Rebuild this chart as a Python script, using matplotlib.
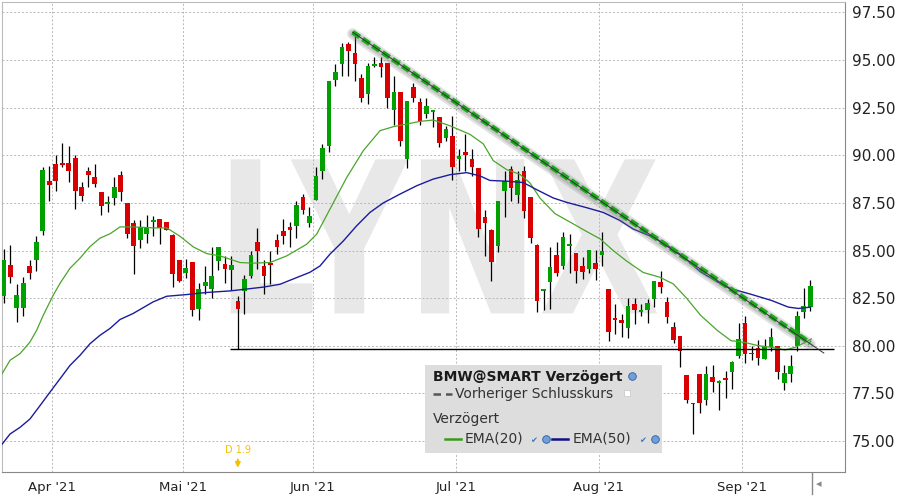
import matplotlib
matplotlib.use('Agg')
import matplotlib.pyplot as plt
import numpy as np
from matplotlib.textpath import TextPath
from matplotlib.patches import PathPatch, Rectangle
from matplotlib.font_manager import FontProperties
from matplotlib.transforms import Affine2D
from matplotlib.lines import Line2D

# daily OHLC, 22 Mar 2021 .. 15 Sep 2021 (index = trading day)
opens = [82.59, 84.24, 82.01, 81.96, 84.18, 84.50, 86.02, 88.66, 89.55, 89.60,
         89.60, 89.86, 88.35, 89.18, 88.87, 88.09, 87.45, 87.74, 88.98, 87.52,
         86.46, 85.56, 85.87, 86.49, 86.67, 86.48, 85.80, 84.50, 83.84, 84.39,
         81.94, 83.16, 83.00, 84.46, 84.28, 83.98, 82.36, 82.88, 83.67, 85.47,
         84.19, 84.33, 85.56, 86.00, 86.21, 86.30, 87.82, 86.47, 87.66, 89.19,
         90.50, 93.97, 94.77, 95.84, 95.39, 94.07, 93.20, 94.70, 94.86, 94.86,
         92.37, 93.30, 89.80, 93.60, 92.81, 92.15, 92.29, 92.02, 90.90, 91.01,
         89.83, 90.17, 89.79, 89.34, 86.74, 86.10, 85.23, 88.10, 89.27, 87.91,
         89.18, 87.82, 85.31, 82.87, 83.34, 84.79, 84.18, 85.26, 84.86, 84.18,
         84.01, 84.36, 84.79, 83.00, 81.46, 81.34, 80.96, 82.18, 81.76, 81.86,
         82.44, 83.34, 82.29, 81.01, 80.54, 78.48, 76.99, 78.53, 77.18, 78.34,
         78.04, 78.29, 78.60, 79.48, 81.19, 79.64, 79.90, 79.31, 79.92, 79.99,
         78.04, 78.51, 80.01, 81.78, 82.03]
highs = [85.07, 85.28, 83.25, 83.63, 84.50, 85.75, 89.36, 89.44, 90.02, 90.63,
         90.49, 90.02, 88.58, 89.36, 89.55, 88.09, 87.88, 88.84, 89.15, 87.52,
         86.61, 86.58, 86.88, 86.82, 86.67, 86.48, 85.89, 84.50, 84.53, 84.39,
         83.32, 84.18, 85.16, 85.21, 84.72, 84.72, 82.60, 83.72, 84.98, 86.17,
         84.49, 84.98, 85.86, 86.65, 86.51, 87.61, 87.96, 87.26, 89.41, 90.59,
         93.88, 94.79, 95.88, 95.96, 96.28, 94.26, 94.82, 95.14, 95.17, 94.86,
         94.18, 93.30, 92.86, 93.77, 93.00, 93.00, 92.37, 92.02, 91.55, 92.06,
         90.31, 91.13, 90.31, 89.34, 87.14, 86.13, 87.61, 89.18, 89.44, 89.18,
         89.44, 87.82, 85.35, 82.96, 85.21, 85.44, 85.99, 85.87, 84.86, 84.65,
         85.03, 85.05, 85.96, 83.00, 82.18, 81.69, 82.53, 82.53, 82.18, 82.47,
         83.38, 83.92, 82.58, 81.24, 80.54, 78.48, 76.99, 78.53, 78.95, 78.99,
         78.20, 78.67, 79.22, 81.19, 81.54, 79.99, 80.31, 80.34, 80.94, 79.99,
         78.99, 79.53, 81.82, 83.05, 83.47]
lows = [82.27, 83.32, 81.23, 81.55, 83.49, 83.94, 85.83, 87.62, 88.14, 89.36,
        88.58, 87.17, 87.62, 88.32, 88.32, 86.86, 87.01, 87.41, 87.59, 85.68,
        83.78, 85.14, 85.40, 85.76, 85.36, 86.06, 83.07, 83.37, 83.58, 81.55,
        81.37, 82.71, 82.50, 83.98, 83.32, 82.92, 79.82, 81.65, 83.58, 84.02,
        82.74, 83.23, 84.81, 85.33, 85.19, 85.68, 86.91, 86.24, 87.66, 88.78,
        90.15, 93.62, 94.14, 94.14, 93.91, 92.78, 92.69, 94.61, 94.09, 92.48,
        91.60, 90.50, 89.33, 92.78, 91.58, 91.95, 91.46, 90.45, 90.73, 88.69,
        89.18, 89.15, 88.92, 85.73, 84.70, 83.38, 84.91, 86.74, 87.58, 87.47,
        86.71, 85.38, 81.78, 81.86, 81.95, 83.66, 84.04, 83.82, 83.29, 83.52,
        83.82, 83.43, 84.18, 80.26, 80.64, 80.44, 80.42, 81.17, 81.55, 81.20,
        82.04, 82.77, 81.20, 80.13, 78.87, 77.02, 75.35, 76.49, 76.88, 77.55,
        76.62, 77.28, 77.72, 79.34, 79.08, 79.25, 78.99, 79.31, 79.75, 78.25,
        77.69, 78.09, 79.75, 81.47, 81.85]
closes = [84.50, 83.63, 82.67, 83.28, 83.84, 85.43, 89.24, 88.42, 88.66, 89.51,
          89.15, 88.14, 87.88, 88.94, 88.47, 87.33, 87.53, 88.35, 88.06, 85.87,
          85.24, 86.25, 86.20, 86.58, 86.18, 86.09, 83.77, 83.42, 84.08, 81.88,
          82.97, 83.33, 83.68, 85.21, 84.02, 84.26, 81.95, 83.53, 84.77, 84.98,
          83.67, 84.26, 85.21, 85.77, 86.10, 87.40, 87.14, 86.82, 88.92, 90.36,
          93.88, 94.35, 95.70, 95.46, 94.77, 93.00, 94.70, 94.81, 94.61, 92.99,
          93.34, 90.73, 92.86, 93.00, 91.78, 92.60, 92.37, 90.67, 91.38, 89.41,
          89.95, 90.00, 89.41, 86.11, 86.45, 84.39, 87.58, 88.66, 88.26, 88.71,
          87.06, 85.66, 82.35, 82.96, 84.16, 83.82, 85.73, 85.35, 83.92, 83.87,
          85.03, 84.01, 85.00, 80.73, 81.34, 81.20, 82.07, 81.86, 81.86, 82.25,
          83.38, 83.08, 81.51, 80.31, 79.71, 77.18, 76.92, 76.99, 78.53, 78.08,
          78.15, 78.20, 79.17, 80.38, 79.55, 79.55, 79.34, 79.99, 80.48, 78.60,
          78.59, 78.95, 81.57, 82.10, 83.12]

# EMA lines (trading-day position, price)
ema20_x = [-0.31, 0.97, 2.51, 4.04, 5.07, 6.09, 7.62, 8.66, 10.19, 11.73, 13.27, 14.8,
           16.34, 17.88, 19.92, 22.95, 25.06, 27.1, 29.15, 31.21, 33.25, 36.33, 38.37,
           40.94, 43.51, 46.58, 48.12, 50.16, 52.73, 55.28, 57.85, 59.89, 61.95, 64.0,
           66.04, 68.61, 71.68, 73.73, 75.27, 77.32, 79.37, 80.91, 82.44, 84.75, 87.05,
           89.62, 91.67, 93.71, 95.77, 98.32, 100.88, 102.94, 105.0, 107.15, 109.75,
           111.82, 113.9, 115.97, 118.05, 120.12, 121.69, 123.24, 124.18]
ema20_y = [78.50, 79.24, 79.59, 80.20, 80.82, 81.61, 82.66, 83.28, 84.07, 84.60, 85.21, 85.65,
           85.88, 86.24, 86.24, 86.19, 86.19, 85.75, 85.19, 84.84, 84.72, 84.37, 84.34,
           84.37, 84.72, 85.33, 85.86, 87.17, 88.83, 90.24, 91.29, 91.50, 91.64, 91.78,
           91.85, 91.55, 91.10, 90.60, 89.72, 89.25, 89.00, 88.55, 87.76, 86.94, 86.50,
           86.00, 85.62, 85.00, 84.45, 83.85, 83.60, 83.25, 82.50, 81.60, 80.80,
           80.27, 80.18, 80.01, 79.92, 79.78, 79.92, 80.18, 80.36]
ema50_x = [-0.31, 0.97, 2.51, 4.04, 5.58, 7.12, 8.66, 10.19, 11.73, 13.27, 14.8, 16.34,
           17.88, 19.92, 23.0, 25.06, 28.13, 31.21, 34.79, 39.91, 42.48, 45.04, 47.09,
           48.63, 50.16, 52.21, 54.27, 56.31, 58.36, 60.92, 63.49, 66.04, 68.61, 71.17,
           73.21, 74.75, 77.32, 79.87, 81.92, 84.49, 86.55, 89.62, 92.18, 94.74, 96.78,
           99.85, 101.92, 104.03, 107.15, 109.75, 111.82, 114.94, 118.05, 120.65,
           122.2, 124.03]
ema50_y = [74.81, 75.37, 75.72, 76.16, 76.86, 77.57, 78.27, 78.97, 79.50, 80.11, 80.55, 80.91,
           81.38, 81.70, 82.31, 82.60, 82.69, 82.80, 82.88, 83.08, 83.23, 83.58, 83.86,
           84.19, 84.81, 85.50, 86.30, 87.00, 87.50, 87.96, 88.40, 88.75, 88.98, 89.09,
           88.92, 88.68, 88.64, 88.57, 88.20, 87.76, 87.53, 87.25, 87.00, 86.58, 86.13,
           85.70, 85.30, 84.80, 83.88, 83.35, 83.00, 82.70, 82.38, 82.03,
           81.96, 82.03]

# drawn lines
trend_x = [53.65, 124.0]
trend_y = [96.46, 80.15]
trend_thin_x = [53.65, 126.1]
trend_thin_y = [96.46, 79.62]
support_x = [34.8, 127.6]
support_y = 79.83

month_pos = [7.5, 27.5, 47.5, 69.5, 91.5, 113.5]
month_labels = ["Apr '21", "Mai '21", "Jun '21", "Jul '21", "Aug '21", "Sep '21"]
yticks = [75.0, 77.5, 80.0, 82.5, 85.0, 87.5, 90.0, 92.5, 95.0, 97.5]
div_pos = 36
div_label = "D 1.9"

GREEN = '#00a000'
RED = '#d80000'

fig = plt.figure(figsize=(9, 5), dpi=100)
ax = fig.add_axes([1.7/900, 1 - 472.3/500, (845.3 - 1.7)/900, (472.3 - 2.3)/500])
ax.set_xlim(-0.31, 129.4)
ax.set_ylim(73.36, 98.03)

# watermark
tp = TextPath((0, 0), "LYNX", size=1, prop=FontProperties(family='DejaVu Sans', weight='bold'))
ext = tp.get_extents()
wx0, wx1, wy0, wy1 = 34.9, 100.5, 81.70, 89.79
tr = Affine2D().translate(-ext.x0, -ext.y0).scale((wx1 - wx0)/ext.width, (wy1 - wy0)/ext.height).translate(wx0, wy0)
ax.add_patch(PathPatch(tr.transform_path(tp), facecolor='#e8e8e8', edgecolor='none', zorder=0))

ax.set_xticks(month_pos)
ax.set_xticklabels(month_labels)
ax.set_yticks(yticks)
ax.set_yticklabels(['%.2f' % v for v in yticks])
ax.yaxis.tick_right()
ax.tick_params(axis='y', length=0, pad=5, labelsize=11, colors='#222222')
ax.tick_params(axis='x', length=0, pad=6, labelsize=9.5, colors='#222222')
ax.grid(True, color='#b8b8b8', linestyle=(0, (2, 2)), linewidth=0.7, zorder=1)
ax.set_axisbelow(True)
for s in ['left', 'top']:
    ax.spines[s].set_color('#bbbbbb')
for s in ['right', 'bottom']:
    ax.spines[s].set_color('#888888')

# candles
x = np.arange(len(opens))
o = np.array(opens); h = np.array(highs); l = np.array(lows); c = np.array(closes)
cols = np.where(c >= o, GREEN, RED)
ax.vlines(x, l, h, color='black', linewidth=0.9, zorder=3)
ax.bar(x, np.maximum(np.abs(c - o), 0.08), bottom=np.minimum(o, c), width=0.72,
       color=cols, linewidth=0, zorder=4)

# EMAs
ax.plot(ema20_x, ema20_y, color='#4aa52a', linewidth=0.9, zorder=5)
ax.plot(ema50_x, ema50_y, color='#1c1c9c', linewidth=1.0, zorder=5)

# support line and trend line with a soft shadow
ax.hlines(support_y, support_x[0], support_x[1], color='black', linewidth=1.0, zorder=6)
ax.plot(trend_x, [v - 0.08 for v in trend_y], color='#777777', alpha=0.22, linewidth=8,
        solid_capstyle='round', zorder=6)
ax.plot(trend_x, [v - 0.08 for v in trend_y], color='#777777', alpha=0.25, linewidth=5,
        solid_capstyle='round', zorder=6)
ax.plot(trend_x, trend_y, color='#1aaa1a', linewidth=3.6, linestyle=(0, (1.7, 0.7)), zorder=7)
ax.plot(trend_thin_x, trend_thin_y, color='#333333', linewidth=0.7, zorder=8)

# dividend marker
ax.text(div_pos, 74.53, div_label, color='#f2c200', fontsize=7, ha='center', va='center', zorder=8)
ax.annotate('', xy=(div_pos, 73.45), xytext=(div_pos, 74.18),
            arrowprops=dict(arrowstyle='-|>', color='#f2c200', lw=1.4, mutation_scale=7), zorder=8)

# legend panel (figure pixels)
def px(xp, yp):
    return xp/900, 1 - yp/500

fig.add_artist(Rectangle(px(425, 453), 237/900, 88/500, transform=fig.transFigure,
                         facecolor='#dddddd', edgecolor='none', zorder=5))
tx, ty = px(433, 377)
fig.text(tx, ty, 'BMW@SMART Verzögert', fontsize=10, fontweight='bold', color='#1a1a1a', va='center', zorder=6)
tx, ty = px(455, 394)
fig.text(tx, ty, 'Vorheriger Schlusskurs', fontsize=10, color='#333333', va='center', zorder=6)
tx, ty = px(433, 419)
fig.text(tx, ty, 'Verzögert', fontsize=10, color='#333333', va='center', zorder=6)
tx, ty = px(465, 439)
fig.text(tx, ty, 'EMA(20)', fontsize=10, color='#333333', va='center', zorder=6)
tx, ty = px(573, 439)
fig.text(tx, ty, 'EMA(50)', fontsize=10, color='#333333', va='center', zorder=6)

def seg(x0, x1, yp, color, lw, ls='-'):
    a, b = px(x0, yp)
    c2, _ = px(x1, yp)
    fig.add_artist(Line2D([a, c2], [b, b], transform=fig.transFigure, color=color,
                          linewidth=lw, linestyle=ls, zorder=6))

seg(433, 452, 394, '#555555', 1.8, (0, (3, 2)))
seg(445, 461, 439, '#3a9a1a', 1.8)
seg(552, 568, 439, '#10108a', 1.8)

def marker(xp, yp, m, size, fc, ec):
    a, b = px(xp, yp)
    fig.add_artist(Line2D([a], [b], transform=fig.transFigure, marker=m, markersize=size,
                          markerfacecolor=fc, markeredgecolor=ec, markeredgewidth=0.6,
                          linestyle='none', zorder=6))

for gx, gy in [(632, 376), (546, 439), (655, 439)]:
    marker(gx, gy, 'o', 5.5, '#6f9fdc', '#2c5d9a')
marker(627, 393, 's', 5, 'white', '#cccccc')
for cx in [534, 643]:
    a, b = px(cx, 440)
    fig.text(a, b, '✔', fontsize=6, color='#3a78c8', ha='center', va='center', zorder=6)

# small navigation mark under the axis
fig.add_artist(Line2D([812/900, 812/900], [1 - 472.5/500, 1 - 494/500], transform=fig.transFigure,
                      color='#888888', linewidth=1))
a, b = px(819, 484)
fig.text(a, b, '◂', fontsize=8, color='#888888', ha='center', va='center')

plt.savefig('out.png', dpi=100)
